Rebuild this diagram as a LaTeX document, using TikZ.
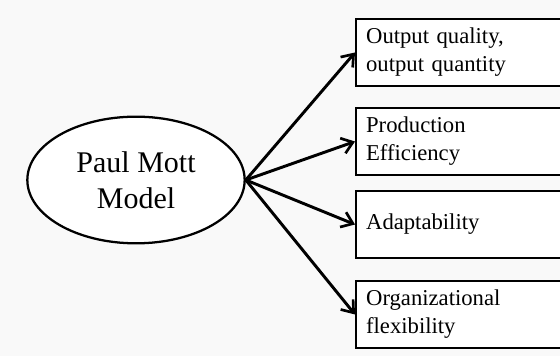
\documentclass[tikz,border=0pt]{standalone}
\usepackage{fontspec}
\setmainfont{Liberation Serif}
\usetikzlibrary{arrows.meta}
\usetikzlibrary{shapes.geometric}

\begin{document}
\begin{tikzpicture} [
    x = 0.75pt, y = 0.75pt,
    model/.style = {draw, ellipse, line width = 1.7pt, fill = white, inner sep = 0pt,
        minimum width = 163pt, minimum height = 95pt, align = center,
        font = \fontsize{22.5}{27}\selectfont},
    factor/.style = {draw, rectangle, line width = 1.7pt, fill = white, anchor = west,
        minimum width = 165pt, minimum height = 50pt, text width = 150pt,
        inner xsep = 7.5pt, align = left, font = \fontsize{17}{21}\selectfont},
    link/.style = {line width = 2.2pt, -{Straight Barb[length = 8pt, width = 12pt, line width = 2pt]}}
]

% background and frame
\fill [gray!5] (0,0) rectangle (560,356);
\clip (0,0) rectangle (560,356);

% model
\node (mott) at (136,176) [model] {Paul Mott\\Model};

% factors
\node (quality) at (355,303.5) [factor] {Output quality,\\output quantity};
\node (efficiency) at (355,214.5) [factor] {Production\\Efficiency};
\node (adapt) at (355,131.5) [factor] {Adaptability};
\node (flex) at (355,41.5) [factor] {Organizational\\flexibility};

% arrows
\draw [link] (mott.east) -- (quality.west);
\draw [link] (mott.east) -- (efficiency.west);
\draw [link] (mott.east) -- (adapt.west);
\draw [link] (mott.east) -- (flex.west);

\end{tikzpicture}
\end{document}
